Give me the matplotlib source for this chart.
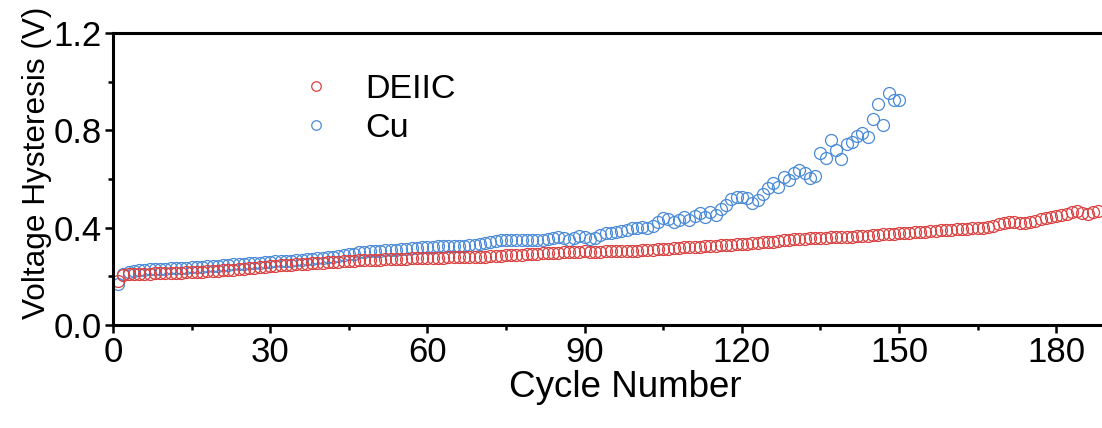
import matplotlib
matplotlib.use("Agg")
import matplotlib.pyplot as plt
from matplotlib.ticker import MultipleLocator

plt.rcParams["font.family"] = ["Liberation Sans", "DejaVu Sans"]

# Voltage hysteresis (V) per cycle
deiic_v = [
    0.180, 0.206, 0.208, 0.209, 0.210, 0.211, 0.211, 0.212, 0.212, 0.213,
    0.214, 0.215, 0.215, 0.216, 0.217, 0.218, 0.219, 0.220, 0.221, 0.223,
    0.224, 0.226, 0.228, 0.230, 0.232, 0.234, 0.236, 0.238, 0.240, 0.242,
    0.244, 0.245, 0.247, 0.248, 0.249, 0.250, 0.252, 0.253, 0.254, 0.256,
    0.257, 0.258, 0.260, 0.261, 0.263, 0.265, 0.266, 0.267, 0.268, 0.269,
    0.269, 0.270, 0.271, 0.272, 0.272, 0.273, 0.274, 0.274, 0.275, 0.275,
    0.276, 0.277, 0.277, 0.278, 0.278, 0.279, 0.279, 0.280, 0.280, 0.281,
    0.281, 0.282, 0.283, 0.284, 0.286, 0.287, 0.288, 0.289, 0.291, 0.292,
    0.293, 0.294, 0.295, 0.296, 0.297, 0.298, 0.299, 0.300, 0.301, 0.302,
    0.301, 0.300, 0.301, 0.302, 0.303, 0.304, 0.303, 0.302, 0.304, 0.306,
    0.307, 0.308, 0.310, 0.311, 0.313, 0.314, 0.316, 0.318, 0.319, 0.320,
    0.321, 0.322, 0.324, 0.325, 0.326, 0.328, 0.329, 0.330, 0.332, 0.333,
    0.334, 0.336, 0.337, 0.339, 0.341, 0.343, 0.346, 0.348, 0.350, 0.352,
    0.354, 0.355, 0.356, 0.357, 0.358, 0.359, 0.360, 0.361, 0.362, 0.362,
    0.363, 0.364, 0.365, 0.366, 0.368, 0.370, 0.372, 0.374, 0.375, 0.376,
    0.378, 0.380, 0.381, 0.382, 0.384, 0.385, 0.387, 0.389, 0.391, 0.392,
    0.393, 0.394, 0.396, 0.397, 0.398, 0.399, 0.401, 0.406, 0.413, 0.420,
    0.425, 0.424, 0.419, 0.418, 0.422, 0.428, 0.434, 0.440, 0.444, 0.448,
    0.452, 0.458, 0.465, 0.470, 0.462, 0.458, 0.463, 0.470,
]
cu_v = [
    0.170, 0.210, 0.216, 0.222, 0.226, 0.228, 0.229, 0.230, 0.231, 0.232,
    0.233, 0.234, 0.235, 0.236, 0.237, 0.238, 0.240, 0.241, 0.243, 0.244,
    0.246, 0.247, 0.249, 0.250, 0.252, 0.253, 0.255, 0.256, 0.258, 0.259,
    0.261, 0.262, 0.264, 0.265, 0.267, 0.268, 0.270, 0.272, 0.274, 0.276,
    0.279, 0.281, 0.284, 0.287, 0.290, 0.293, 0.298, 0.300, 0.302, 0.303,
    0.305, 0.307, 0.308, 0.310, 0.312, 0.314, 0.316, 0.318, 0.320, 0.322,
    0.322, 0.323, 0.324, 0.325, 0.325, 0.326, 0.326, 0.327, 0.330, 0.334,
    0.338, 0.342, 0.346, 0.349, 0.350, 0.348, 0.349, 0.350, 0.349, 0.350,
    0.350, 0.351, 0.352, 0.356, 0.363, 0.358, 0.350, 0.356, 0.366, 0.362,
    0.352, 0.358, 0.368, 0.376, 0.380, 0.384, 0.388, 0.392, 0.397, 0.400,
    0.402, 0.400, 0.408, 0.425, 0.440, 0.436, 0.422, 0.432, 0.444, 0.432,
    0.449, 0.461, 0.444, 0.465, 0.453, 0.477, 0.494, 0.519, 0.527, 0.527,
    0.523, 0.502, 0.514, 0.539, 0.564, 0.584, 0.568, 0.609, 0.597, 0.626,
    0.638, 0.626, 0.605, 0.613, 0.708, 0.687, 0.761, 0.720, 0.683, 0.745,
    0.753, 0.778, 0.790, 0.774, 0.848, 0.909, 0.823, 0.955, 0.926, 0.926,
]
deiic_cycles = list(range(1, len(deiic_v) + 1))
cu_cycles = list(range(1, len(cu_v) + 1))

RED = "#d9403f"
BLUE = "#4a8ad8"

fig = plt.figure(figsize=(11.02, 4.28), dpi=100)
# the original frame runs past the right edge of the picture
ax = fig.add_axes([0.1025, 0.2407, 0.9292, 0.6822])

marker_kw = dict(linestyle="none", marker="o", markerfacecolor="none",
                 markersize=8.6, markeredgewidth=0.9)
ax.plot(cu_cycles, cu_v, color=BLUE, markeredgecolor=BLUE, label="Cu", **marker_kw)
ax.plot(deiic_cycles, deiic_v, color=RED, markeredgecolor=RED, label="DEIIC", **marker_kw)

ax.set_xlim(0, 195.4)
ax.set_ylim(0, 1.2)
ax.xaxis.set_major_locator(MultipleLocator(30))
ax.xaxis.set_minor_locator(MultipleLocator(15))
ax.yaxis.set_major_locator(MultipleLocator(0.4))
ax.yaxis.set_minor_locator(MultipleLocator(0.2))
ax.yaxis.set_major_formatter(plt.FormatStrFormatter("%.1f"))

for side in ("left", "bottom", "top"):
    ax.spines[side].set_linewidth(2.2)
ax.spines["right"].set_visible(False)
ax.tick_params(which="major", direction="out", length=6, width=1.8,
               labelsize=25, pad=2)
ax.tick_params(which="minor", direction="out", length=3.5, width=1.8)
ax.tick_params(top=False, right=False)

ax.set_xlabel("Cycle Number", fontsize=26.5, labelpad=1)
ax.set_ylabel("Voltage Hysteresis (V)", fontsize=22.7)
ax.yaxis.set_label_coords(-0.06, 0.555)

handles, labels = ax.get_legend_handles_labels()
leg = ax.legend(handles[::-1], labels[::-1], loc="upper left",
                bbox_to_anchor=(0.1816, 0.86), frameon=False, fontsize=24.5,
                markerscale=0.8, handletextpad=0.95, labelspacing=0.25,
                handlelength=1.0, borderpad=0, borderaxespad=0)

fig.savefig("out.png", dpi=100)
